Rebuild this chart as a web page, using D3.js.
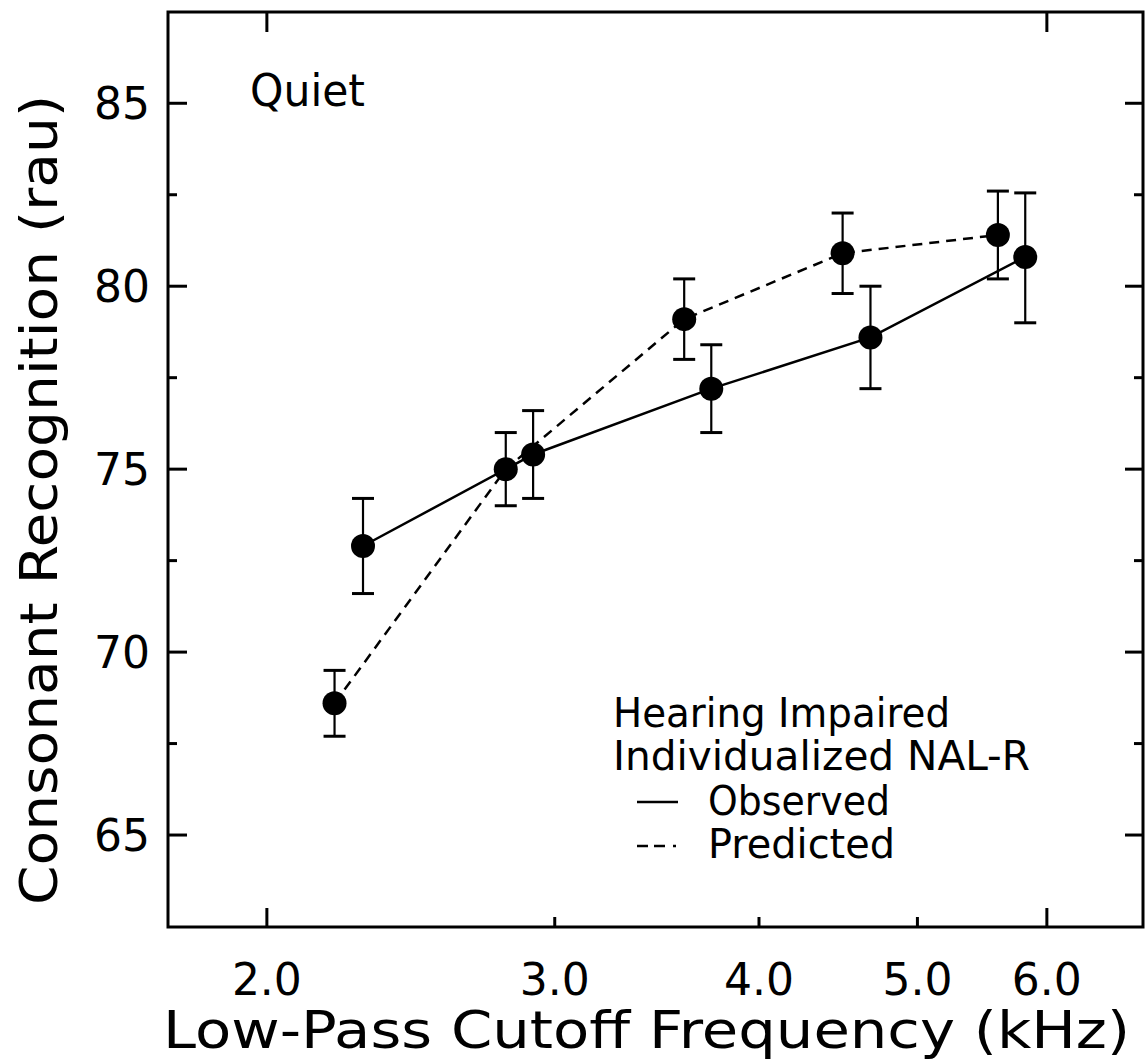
<!DOCTYPE html>
<html>
<head>
<meta charset="utf-8">
<script src="https://cdn.jsdelivr.net/npm/d3@7"></script>
<style>
  html, body { margin: 0; padding: 0; background: #fff; }
  svg { display: block; }
  text { font-family: "DejaVu Sans", sans-serif; fill: #000; }
</style>
</head>
<body>
<svg id="chart" width="1145" height="1062"></svg>
<script>
// ---- data ----
const xPred = [2.2, 2.8, 3.6, 4.5, 5.6];
const xObs = [2.29, 2.91, 3.74, 4.68, 5.82];
const obsVals = [72.9, 75.4, 77.2, 78.6, 80.8];
const obsLo = [71.6, 74.2, 76.0, 77.2, 79.0];
const obsHi = [74.2, 76.6, 78.4, 80.0, 82.55];
const predVals = [68.6, 75.0, 79.1, 80.9, 81.4];
const predLo = [67.7, 74.0, 78.0, 79.8, 80.2];
const predHi = [69.5, 76.0, 80.2, 82.0, 82.6];
const xTickVals = [2, 3, 4, 5, 6];
const xTickLabels = ["2.0", "3.0", "4.0", "5.0", "6.0"];
const yMajor = [65, 70, 75, 80, 85];
const yMinor = [67.5, 72.5, 77.5, 82.5];
const xTitle = "Low-Pass Cutoff Frequency (kHz)";
const yTitle = "Consonant Recognition (rau)";
const panelLabel = "Quiet";
const legendLines = ["Hearing Impaired", "Individualized NAL-R"];
const seriesNames = ["Observed", "Predicted"];

// ---- layout ----
const L = 168, R = 1143, T = 12, B = 927;
const svg = d3.select("#chart");
const x = d3.scaleLog().domain([1.74, 6.87]).range([L, R]);
const y = d3.scaleLinear().domain([62.5, 87.5]).range([926.5, 11.8]);

const obs = xObs.map((v, i) => ({x: v, y: obsVals[i], lo: obsLo[i], hi: obsHi[i]}));
const pred = xPred.map((v, i) => ({x: v, y: predVals[i], lo: predLo[i], hi: predHi[i]}));

// frame
svg.append("rect").attr("x", L).attr("y", T).attr("width", R - L).attr("height", B - T)
  .attr("fill", "none").attr("stroke", "#000").attr("stroke-width", 3);

// y ticks (left and right, inward)
const yt = svg.append("g").attr("stroke", "#000").attr("stroke-width", 3);
yMajor.forEach(v => {
  yt.append("line").attr("x1", L).attr("x2", L + 19).attr("y1", y(v)).attr("y2", y(v));
  yt.append("line").attr("x1", R).attr("x2", R - 18).attr("y1", y(v)).attr("y2", y(v));
});
yMinor.forEach(v => {
  yt.append("line").attr("x1", L).attr("x2", L + 9).attr("y1", y(v)).attr("y2", y(v));
  yt.append("line").attr("x1", R).attr("x2", R - 9).attr("y1", y(v)).attr("y2", y(v));
});
// y tick labels
svg.append("g").selectAll("text").data(yMajor).join("text")
  .attr("x", 150).attr("y", d => y(d) + 16)
  .attr("text-anchor", "end").attr("font-size", 44)
  .text(d => d);

// x ticks
const xt = svg.append("g").attr("stroke", "#000").attr("stroke-width", 3);
xTickVals.forEach(v => {
  const long = (v === 2 || v === 6);
  xt.append("line").attr("x1", x(v)).attr("x2", x(v)).attr("y1", B).attr("y2", B - (long ? 19 : 10));
  if (long) xt.append("line").attr("x1", x(v)).attr("x2", x(v)).attr("y1", T).attr("y2", T + 20);
});
svg.append("g").selectAll("text").data(xTickVals).join("text")
  .attr("x", d => x(d)).attr("y", 995)
  .attr("text-anchor", "middle").attr("font-size", 44)
  .text((d, i) => xTickLabels[i]);

// axis titles
svg.append("text").attr("x", 163).attr("y", 1048).attr("font-size", 52)
  .attr("textLength", 967).attr("lengthAdjust", "spacingAndGlyphs").text(xTitle);
svg.append("text").attr("transform", "translate(57,500) rotate(-90)")
  .attr("text-anchor", "middle").attr("font-size", 52)
  .attr("textLength", 810).attr("lengthAdjust", "spacingAndGlyphs").text(yTitle);

// panel label
svg.append("text").attr("x", 250).attr("y", 106).attr("font-size", 45)
  .attr("textLength", 115).attr("lengthAdjust", "spacingAndGlyphs").text(panelLabel);

// lines
const line = d3.line().x(d => x(d.x)).y(d => y(d.y));
svg.append("path").datum(obs).attr("d", line).attr("fill", "none")
  .attr("stroke", "#000").attr("stroke-width", 2.5);
svg.append("path").datum(pred).attr("d", line).attr("fill", "none")
  .attr("stroke", "#000").attr("stroke-width", 2.5).attr("stroke-dasharray", "10,7");

// error bars
function errBars(data) {
  const g = svg.append("g").attr("stroke", "#000").attr("stroke-width", 2.2);
  data.forEach(d => {
    const cx = x(d.x);
    g.append("line").attr("x1", cx).attr("x2", cx).attr("y1", y(d.lo)).attr("y2", y(d.hi));
    g.append("line").attr("x1", cx - 11).attr("x2", cx + 11).attr("y1", y(d.lo)).attr("y2", y(d.lo)).attr("stroke-width", 3);
    g.append("line").attr("x1", cx - 11).attr("x2", cx + 11).attr("y1", y(d.hi)).attr("y2", y(d.hi)).attr("stroke-width", 3);
  });
}
errBars(obs);
errBars(pred);

// markers
svg.append("g").selectAll("circle").data(obs.concat(pred)).join("circle")
  .attr("cx", d => x(d.x)).attr("cy", d => y(d.y)).attr("r", 12).attr("fill", "#000");

// legend
svg.append("text").attr("x", 613).attr("y", 727).attr("font-size", 40)
  .attr("textLength", 337).attr("lengthAdjust", "spacingAndGlyphs").text(legendLines[0]);
svg.append("text").attr("x", 613).attr("y", 770).attr("font-size", 40)
  .attr("textLength", 417).attr("lengthAdjust", "spacingAndGlyphs").text(legendLines[1]);
svg.append("line").attr("x1", 637).attr("x2", 678).attr("y1", 802).attr("y2", 802)
  .attr("stroke", "#000").attr("stroke-width", 2.5);
svg.append("text").attr("x", 708).attr("y", 815).attr("font-size", 40)
  .attr("textLength", 182).attr("lengthAdjust", "spacingAndGlyphs").text(seriesNames[0]);
svg.append("line").attr("x1", 637).attr("x2", 678).attr("y1", 846).attr("y2", 846)
  .attr("stroke", "#000").attr("stroke-width", 2.5).attr("stroke-dasharray", "11,6,11,8,3,10");
svg.append("text").attr("x", 708).attr("y", 858).attr("font-size", 40)
  .attr("textLength", 187).attr("lengthAdjust", "spacingAndGlyphs").text(seriesNames[1]);
</script>
</body>
</html>
